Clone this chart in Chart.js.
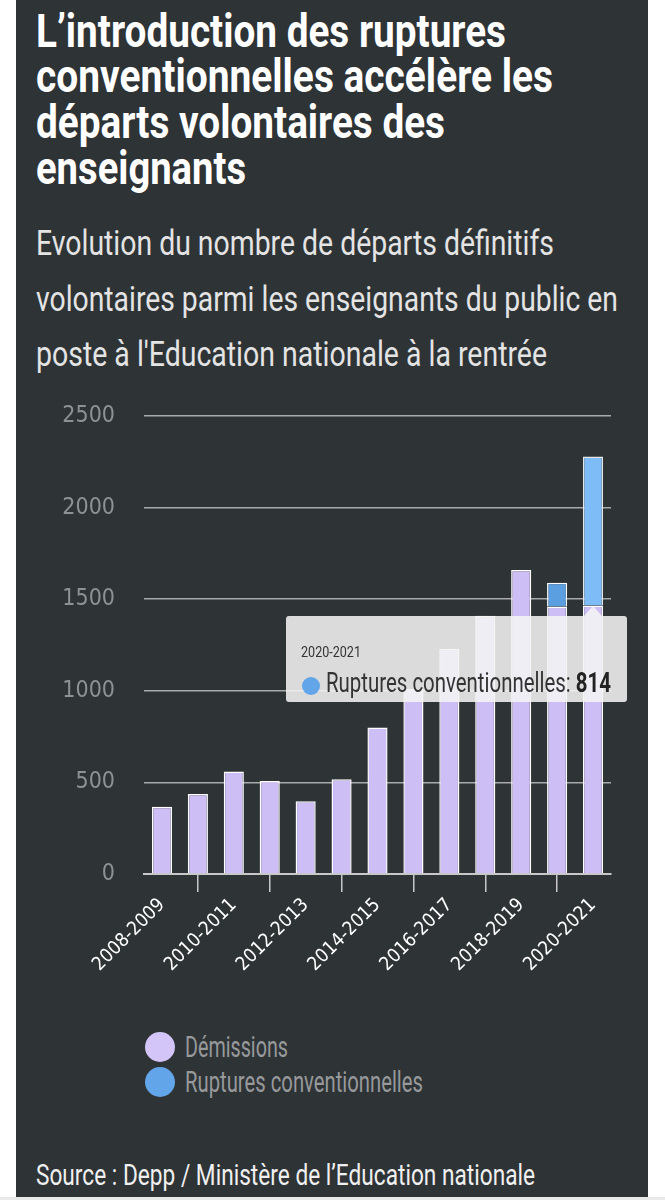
<!DOCTYPE html>
<html lang="fr">
<head>
<meta charset="utf-8">
<script src="https://cdn.jsdelivr.net/npm/chart.js@4"></script>
<style>
  html, body { margin: 0; padding: 0; background: #fff; }
  body { width: 665px; height: 1200px; position: relative; overflow: hidden; font-family: Roboto, sans-serif; }
  #panel { position: absolute; left: 16px; top: 0; width: 632px; height: 1197px; background: #2e3336; }
  #strip { position: absolute; left: 0; top: 1197px; width: 665px; height: 3px; background: #e9e9e9; }
  .ln { position: absolute; white-space: nowrap; line-height: 1; transform-origin: 0 0; }
  .ttl { left: 36px; color: #fff; font-weight: bold; font-size: 47px; }
  .sub { left: 36px; color: #e4e4e4; font-size: 35px; }
  #source { left: 36px; top: 1160px; color: #f0f0f0; font-size: 30px; }
  #wrap { position: absolute; left: 16px; top: 390px; width: 611px; height: 592px; }
  .li { position: absolute; left: 145px; height: 30px; }
  .dot { position: absolute; left: 0; top: 0; width: 30px; height: 30px; border-radius: 50%; }
  .li .ln { left: 40px; top: 1px; color: #97999b; font-size: 29px; }
  #tip { position: absolute; width: 341px; height: 86px; background: rgba(245,245,245,0.87);
         border-radius: 3px; color: #333; pointer-events: none; }
  #tip .t { left: 15px; top: 29px; font-size: 15px; }
  #tip .b { left: 40px; top: 53px; font-size: 28px; }
  #tip .b b { color: #222; }
  #tip i { position: absolute; left: 16px; top: 61px; width: 18px; height: 18px; border-radius: 50%; }
  #caret { position: absolute; width: 0; height: 0; border-left: 9px solid transparent;
           border-right: 9px solid transparent; border-bottom: 10px solid rgba(245,245,245,0.87); }
</style>
</head>
<body>
<div id="panel"></div>
<div id="strip"></div>
<div class="ln ttl fit" data-w="470" style="top:7px">L’introduction des ruptures</div>
<div class="ln ttl fit" data-w="517" style="top:52px">conventionnelles accélère les</div>
<div class="ln ttl fit" data-w="409" style="top:98px">départs volontaires des</div>
<div class="ln ttl fit" data-w="210" style="top:144px">enseignants</div>
<div class="ln sub fit" data-w="518" style="top:226px">Evolution du nombre de départs définitifs</div>
<div class="ln sub fit" data-w="582" style="top:282px">volontaires parmi les enseignants du public en</div>
<div class="ln sub fit" data-w="511" style="top:337px">poste à l'Education nationale à la rentrée</div>
<div id="wrap"><canvas id="chart" width="611" height="592"></canvas></div>
<div id="legend"></div>
<div id="source" class="ln fit" data-w="499">Source : Depp / Ministère de l’Education nationale</div>
<script>
const labels = [
  "2008-2009", "2009-2010", "2010-2011", "2011-2012", "2012-2013",
  "2013-2014", "2014-2015", "2015-2016", "2016-2017", "2017-2018",
  "2018-2019", "2019-2020", "2020-2021",
];
const demissions = [367, 437, 559, 508, 397, 517, 800, 1010, 1228, 1409, 1660, 1460, 1465];
const ruptures = [null, null, null, null, null, null, null, null, null, null, null, 130, 814];
const yTicks = [0, 500, 1000, 1500, 2000, 2500];

const font = "'DejaVu Sans Condensed', sans-serif";
const colDem = "#cdbef5";
const colRup = "#5c9fe0";

// squeeze a line of text to the width it has in the picture
function fit(el) {
  el.style.transform = "";
  const w = el.getBoundingClientRect().width;
  el.style.transform = "scaleX(" + (+el.dataset.w / w) + ")";
}

// html tooltip so the value can be bold
function externalTip(context) {
  const model = context.tooltip;
  const wrap = document.getElementById("wrap");
  let tip = document.getElementById("tip");
  let caret = document.getElementById("caret");
  if (!tip) {
    tip = document.createElement("div");
    tip.id = "tip";
    wrap.appendChild(tip);
    caret = document.createElement("div");
    caret.id = "caret";
    wrap.appendChild(caret);
  }
  if (model.opacity === 0) {
    tip.style.display = "none";
    caret.style.display = "none";
    return;
  }
  const item = model.dataPoints[0];
  const ds = item.dataset;
  tip.innerHTML =
    '<span class="ln t fit" data-w="60">' + item.label + '</span>' +
    '<i style="background:' + ds.legendColor + '"></i>' +
    '<span class="ln b fit" data-w="285">' + ds.label + ': <b>' + item.formattedValue + '</b></span>';
  tip.querySelectorAll(".fit").forEach(fit);
  const w = 341;
  const left = Math.max(0, Math.min(model.caretX - w / 2, context.chart.width - w));
  tip.style.left = left + "px";
  tip.style.top = (model.caretY + 10) + "px";
  caret.style.left = (model.caretX - 9) + "px";
  caret.style.top = model.caretY + "px";
}

const chart = new Chart(document.getElementById("chart"), {
  type: "bar",
  data: {
    labels: labels,
    datasets: [
      {
        label: "Démissions",
        data: demissions,
        backgroundColor: colDem,
        hoverBackgroundColor: colDem,
        legendColor: "#d3c5f7",
        borderColor: "#fff",
        borderWidth: 1.5,
        categoryPercentage: 1,
        barPercentage: 0.56,
      },
      {
        label: "Ruptures conventionnelles",
        data: ruptures,
        backgroundColor: colRup,
        hoverBackgroundColor: "#7dbcf6",
        legendColor: "#62a5e8",
        borderColor: "#fff",
        borderWidth: 1.5,
        categoryPercentage: 1,
        barPercentage: 0.56,
      },
    ],
  },
  options: {
    responsive: false,
    animation: false,
    layout: { padding: { top: 26, right: 16, left: 0, bottom: 0 } },
    scales: {
      x: {
        stacked: true,
        grid: { drawOnChartArea: false, drawTicks: true, tickLength: 18, color: "#c8c8c8", lineWidth: 1.5 },
        border: { display: true, color: "#c8c8c8", width: 2 },
        ticks: {
          color: "#fff",
          font: { family: font, size: 19 },
          maxRotation: 45,
          minRotation: 45,
          autoSkip: false,
          padding: 2,
          callback: function (v, i) { return i % 2 === 0 ? labels[i] : null; },
        },
        afterFit: function (s) { s.height = 108; },
      },
      y: {
        stacked: true,
        min: 0,
        max: 2500,
        afterBuildTicks: function (s) { s.ticks = yTicks.map(v => ({ value: v })); },
        grid: { drawTicks: false, color: "rgba(200,200,200,0.8)", lineWidth: 1.5 },
        border: { display: false },
        ticks: {
          color: "#8d9295",
          font: { family: font, size: 23 },
          padding: 29,
          callback: function (v) { return String(v); },
        },
        afterFit: function (s) {
          s.width = 128;
          s.paddingTop = 0;
          s.paddingBottom = 0;
        },
      },
    },
    plugins: {
      legend: { display: false },
      tooltip: {
        enabled: false,
        external: externalTip,
        position: "segmentBase",
      },
    },
  },
});

// legend built from the datasets
const legend = document.getElementById("legend");
chart.data.datasets.forEach((ds, i) => {
  const row = document.createElement("div");
  row.className = "li";
  row.style.top = (1032 + 35 * i) + "px";
  row.innerHTML = '<span class="dot" style="background:' + ds.legendColor + '"></span>' +
    '<span class="ln fit" data-w="' + (i === 0 ? 103 : 238) + '">' + ds.label + '</span>';
  legend.appendChild(row);
});
document.querySelectorAll(".fit").forEach(fit);
</script>
<script>
// tooltip anchored at the bottom of the hovered segment
Chart.Tooltip.positioners.segmentBase = function (items) {
  if (!items.length) return false;
  const el = items[0].element;
  return { x: el.x, y: el.base };
};
chart.setActiveElements([{ datasetIndex: 1, index: 12 }]);
chart.tooltip.setActiveElements([{ datasetIndex: 1, index: 12 }], { x: 0, y: 0 });
chart.update();
</script>
</body>
</html>
